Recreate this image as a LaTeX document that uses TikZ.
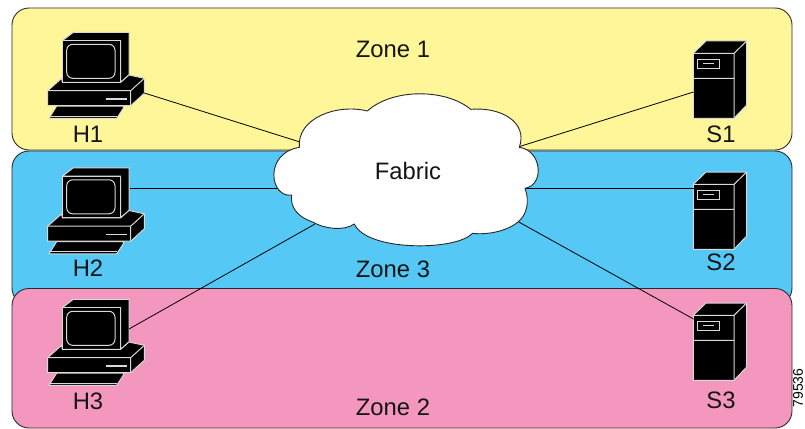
\documentclass[tikz,border=0pt]{standalone}
\usepackage{fontspec}
\setmainfont{Liberation Sans}
\definecolor{zyellow}{HTML}{FFF599}
\definecolor{zblue}{HTML}{55C8F5}
\definecolor{zpink}{HTML}{F497BF}
\definecolor{zedge}{HTML}{2A2A2A}
\tikzset{
  zone/.style={draw=zedge,line width=0.9pt,rounded corners=17pt},
  lbl/.style={font=\fontsize{23.8}{26}\selectfont,inner sep=0pt,text=black!92},
  link/.style={draw=black,line width=0.8pt},
  body/.style={fill=black,draw=white!85!black,line width=1pt,line join=round},
  pc/.pic={
    \path[body] (62.3,40.7)--(73.3,32.3)--(129,32.3)--(129,75)--(120.7,82.3)--(120.7,40.7)--cycle;
    \path[body] (62.3,40.7) rectangle (120.7,82.3);
    \path[draw=white!85!black,line width=1pt,rounded corners=6pt] (66.7,44.3) rectangle (115,78.3);
    \path[body] (47.7,90.7)--(61.7,78.3)--(62.3,82.3)--(120.7,82.3)--(129,75)--(144.3,78.3)--(144.3,93.3)--(130.7,105.7)--(47.7,105.7)--cycle;
    \path[draw=white!85!black,line width=1pt] (47.7,90.7)--(130.7,90.7)--(144.3,78.3) (130.7,90.7)--(130.7,105.7);
    \path[draw=white!85!black,line width=1.2pt] (105.7,99)--(126.7,99);
    \path[body] (49,118.3)--(56.7,106)--(123.3,106)--(123.3,108.3)--(116.7,118.3)--cycle;
    \path[draw=white!85!black,line width=1pt] (49,116)--(116.7,116);
  },
  srv/.pic={
    \path[body] (693.3,53.3)--(706,41)--(746.7,41)--(746.7,105)--(734,118.3)--(693.3,118.3)--cycle;
    \path[draw=white!85!black,line width=1pt] (693.3,53.3)--(734,53.3)--(746.7,41) (734,53.3)--(734,118.3) (693.3,78.3)--(734,78.3);
    \path[draw=white!85!black,line width=1pt] (697.7,59.3) rectangle (719.3,68.3);
    \path[draw=white!85!black,line width=1.1pt] (703.3,63.5)--(714.3,63.5);
  }
}
\begin{document}
\begin{tikzpicture}[x=1pt,y=-1pt]
\useasboundingbox (0,0) rectangle (805,428);
\clip (0,0) rectangle (805,428);
\fill[white] (0,0) rectangle (805,428);
% zones
\path[zone,fill=zyellow] (12,8) rectangle (792,150);
\path[zone,fill=zblue] (12,151) rectangle (792,305);
\path[zone,fill=zpink] (12,288.5) rectangle (792,428);
% icons
\pic at (0,0) {pc};
\pic at (0,135.5) {pc};
\pic at (0,267) {pc};
\pic at (0,0) {srv};
\pic at (0,131) {srv};
\pic at (0,262) {srv};
% connector ends
\coordinate (H1) at (144.3,93);
\coordinate (H2) at (130,188);
\coordinate (H3) at (129,329);
\coordinate (S1) at (693.5,92);
\coordinate (S2) at (693.5,188);
\coordinate (S3) at (693.5,319);
\coordinate (F1) at (300,142);
\coordinate (F2) at (280,188);
\coordinate (F3) at (315,224);
\coordinate (F4) at (518,147);
\coordinate (F5) at (525,188);
\coordinate (F6) at (517,221);
\draw[link] (H1)--(F1);
\draw[link] (H2)--(F2);
\draw[link] (H3)--(F3);
\draw[link] (S1)--(F4);
\draw[link] (S2)--(F5);
\draw[link] (S3)--(F6);
% cloud
\begin{scope}[xshift=260pt,yshift=-85pt,x=0.33333pt,y=-0.33333pt]
\draw[fill=white,draw=black!85,line width=0.9pt,line join=round]
 (118,187) .. controls (110,100) and (230,55) .. (322,78)
 .. controls (400,8) and (560,12) .. (632,73)
 .. controls (720,65) and (805,110) .. (778,187)
 .. controls (845,195) and (855,300) .. (795,310)
 .. controls (810,350) and (800,390) .. (775,410)
 .. controls (740,440) and (680,450) .. (637,445)
 .. controls (590,498) and (320,500) .. (283,417)
 .. controls (250,440) and (190,430) .. (160,412)
 .. controls (110,395) and (90,365) .. (95,330)
 .. controls (30,340) and (10,205) .. (118,187) -- cycle;
\end{scope}
% labels
\node[lbl] (tZ1) at (393,49) {Zone 1};
\node[lbl] (tZ3) at (393,269.5) {Zone 3};
\node[lbl] (tZ2) at (393,407) {Zone 2};
\node[lbl] (tF) at (408,170.5) {Fabric};
\node[lbl] (tH1) at (88,134) {H1};
\node[lbl] (tH2) at (88,268.5) {H2};
\node[lbl] (tH3) at (88,401) {H3};
\node[lbl] (tS1) at (721,134) {S1};
\node[lbl] (tS2) at (721,262) {S2};
\node[lbl] (tS3) at (721,400) {S3};
\node[inner sep=0pt,rotate=90,font=\fontsize{14}{16}\selectfont] (tN) at (798,388) {79536};
\end{tikzpicture}
\end{document}
